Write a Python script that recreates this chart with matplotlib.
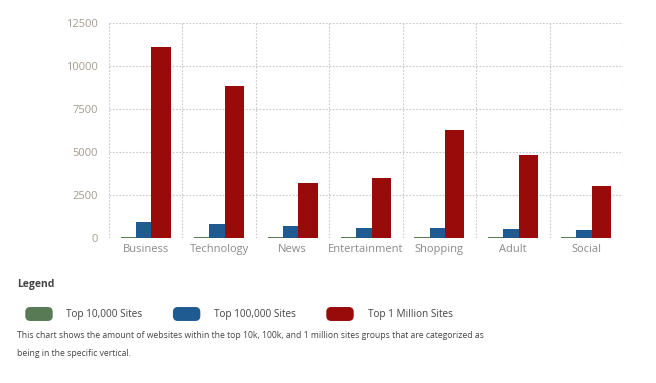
import numpy as np
import matplotlib
matplotlib.use("Agg")
import matplotlib.pyplot as plt
from matplotlib.patches import Patch, FancyBboxPatch
from matplotlib.legend_handler import HandlerPatch

plt.rcParams['font.family'] = ['Open Sans', 'DejaVu Sans']

# data
categories = ['Business', 'Technology', 'News', 'Entertainment', 'Shopping', 'Adult', 'Social']
top_10k = [80, 60, 50, 30, 60, 35, 35]
top_100k = [930, 830, 700, 560, 560, 500, 465]
top_1m = [11100, 8810, 3200, 3470, 6280, 4820, 3000]
series_names = ['Top 10,000 Sites', 'Top 100,000 Sites', 'Top 1 Million Sites']
colors = ['#587a55', '#1f5a91', '#990a0b']
yticks = [0, 2500, 5000, 7500, 10000, 12500]

fig = plt.figure(figsize=(6.56, 3.83), dpi=100)
ax = fig.add_axes([109 / 656, 1 - 238 / 383, (623 - 109) / 656, (238 - 23) / 383])

x = np.arange(len(categories))
# bar widths as fractions of a category slot
w_g, w_b, w_r = 0.205, 0.213, 0.262
left = x - 0.34
ax.bar(left, top_10k, width=w_g, align='edge', color=colors[0], linewidth=0)
ax.bar(left + w_g, top_100k, width=w_b, align='edge', color=colors[1], linewidth=0)
ax.bar(left + w_g + w_b, top_1m, width=w_r, align='edge', color=colors[2], linewidth=0)

ax.set_xlim(-0.5, len(categories) - 0.5)
ax.set_ylim(0, 12500)
ax.set_yticks(yticks)
ax.set_xticks(x)
ax.set_xticklabels(categories)
ax.set_xticks(np.arange(-0.5, len(categories)), minor=True)
ax.grid(True, axis='y', which='major', linestyle=(0, (1.5, 1.5)), color='#c8c8c8', linewidth=0.8)
ax.grid(True, axis='x', which='minor', linestyle=(0, (1.5, 1.5)), color='#c8c8c8', linewidth=0.8)
ax.grid(False, axis='x', which='major')
ax.set_axisbelow(True)
for s in ax.spines.values():
    s.set_visible(False)
ax.tick_params(axis='both', which='both', length=0)
ax.tick_params(axis='x', labelsize=8, labelcolor='#8a8a8a', pad=4)
ax.tick_params(axis='y', labelsize=8, labelcolor='#a39c90', pad=8)

fig.text(17 / 656, 1 - 285 / 383, 'Legend', fontsize=7.5, fontweight='bold', color='#444444', va='center')


def rounded(legend, orig_handle, xdescent, ydescent, width, height, fontsize):
    return FancyBboxPatch((-xdescent, -ydescent), width, height,
                          boxstyle='round,pad=0,rounding_size=3')


handles = [Patch(facecolor=c, edgecolor=c) for c in colors]
fig.legend(handles, series_names, loc='center left', bbox_to_anchor=(17 / 656, 1 - 314 / 383),
           ncol=3, frameon=False, fontsize=7.2, handlelength=2.6, handleheight=1.55,
           handletextpad=1.45, columnspacing=3.1, labelcolor='#444444',
           handler_map={Patch: HandlerPatch(patch_func=rounded)})

fig.text(17 / 656, 1 - 335 / 383,
         'This chart shows the amount of websites within the top 10k, 100k, and 1 million sites groups that are categorized as',
         fontsize=6.2, color='#444444', va='center')
fig.text(17 / 656, 1 - 354 / 383, 'being in the specific vertical.',
         fontsize=6.2, color='#444444', va='center')

fig.savefig('out.png', dpi=100)
